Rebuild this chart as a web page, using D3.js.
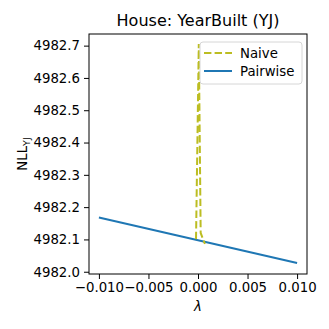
<!DOCTYPE html>
<html>
<head>
<meta charset="utf-8">
<script src="https://cdn.jsdelivr.net/npm/d3@7"></script>
<style>
  body { margin: 0; background: #fff; }
  text { font-family: "DejaVu Sans", sans-serif; }
</style>
</head>
<body>
<svg id="chart" width="329" height="329"></svg>
<script>
// values
const pairwiseLambda = [-0.01, 0.01];
const pairwiseNll = [4982.168, 4982.027];
const naiveLambda = [-0.0002, 0.00008, 0.00027, 0.0007];
const naiveNll = [4982.101, 4982.705, 4982.12, 4982.086];
const xTicks = [-0.01, -0.005, 0, 0.005, 0.01];
const yTicks = [4982.0, 4982.1, 4982.2, 4982.3, 4982.4, 4982.5, 4982.6, 4982.7];
const seriesNames = ["Naive", "Pairwise"];
const seriesColors = ["#bcbd22", "#1f77b4"];

const margin = {left: 89, right: 22, top: 34, bottom: 55};
const svg = d3.select("svg#chart");
const w = svg.attr("width") - margin.left - margin.right;
const h = svg.attr("height") - margin.top - margin.bottom;

const xScale = d3.scaleLinear().domain([-0.011, 0.011]).range([0, w]);
const yScale = d3.scaleLinear().domain([4981.993, 4982.736]).range([h, 0]);

const g = svg.append("g")
    .attr("transform", "translate(" + margin.left + ", " + margin.top + ")");

const minus = (s) => s.replace("-", "\u2212");

const xAxis = g.append("g")
    .attr("transform", "translate(0, " + h + ")")
    .call(d3.axisBottom(xScale).tickValues(xTicks).tickSize(5).tickPadding(4)
        .tickFormat((d) => minus(d3.format(".3f")(d))));
const yAxis = g.append("g")
    .call(d3.axisLeft(yScale).tickValues(yTicks).tickSize(5).tickPadding(4)
        .tickFormat(d3.format(".1f")));
[xAxis, yAxis].forEach((ax) => {
  ax.selectAll("text").attr("font-size", 13.3).attr("fill", "#000")
      .style("font-family", "DejaVu Sans");
  ax.selectAll("line").attr("stroke", "#000").attr("stroke-width", 1);
  ax.select(".domain").remove();
});

const line = d3.line()
    .x((d) => xScale(d[0]))
    .y((d) => yScale(d[1]));

g.append("path")
    .datum(pairwiseLambda.map((v, i) => [v, pairwiseNll[i]]))
    .attr("fill", "none")
    .attr("stroke", seriesColors[1])
    .attr("stroke-width", 2)
    .attr("d", line);

g.append("path")
    .datum(naiveLambda.map((v, i) => [v, naiveNll[i]]))
    .attr("fill", "none")
    .attr("stroke", seriesColors[0])
    .attr("stroke-width", 2)
    .attr("stroke-dasharray", "7.4,3.2")
    .attr("d", line);

// frame
g.append("rect")
    .attr("width", w).attr("height", h)
    .attr("fill", "none").attr("stroke", "#000").attr("stroke-width", 1);

// legend
const lg = g.append("g").attr("transform", "translate(" + (w - 107) + ", 8)");
lg.append("rect")
    .attr("width", 102).attr("height", 42).attr("rx", 3)
    .attr("fill", "#fff").attr("fill-opacity", 0.8)
    .attr("stroke", "#d6d6d6").attr("stroke-width", 1);
seriesNames.forEach((name, i) => {
  const y = 11 + i * 18;
  lg.append("line")
      .attr("x1", 4).attr("x2", 32).attr("y1", y).attr("y2", y)
      .attr("stroke", seriesColors[i]).attr("stroke-width", 2)
      .attr("stroke-dasharray", i == 0 ? "7.4,3.2" : null);
  lg.append("text")
      .attr("x", 40).attr("y", y).attr("dy", "0.35em")
      .attr("font-size", 13.3)
      .text(name);
});

// title and labels
svg.append("text")
    .attr("x", margin.left + w / 2).attr("y", 26)
    .attr("text-anchor", "middle").attr("font-size", 16)
    .text("House: YearBuilt (YJ)");

svg.append("text")
    .attr("x", margin.left + w / 2).attr("y", 311)
    .attr("text-anchor", "middle").attr("font-size", 13.3)
    .attr("font-style", "italic")
    .text("\u03bb");

const yl = svg.append("text")
    .attr("transform", "translate(27, " + (margin.top + h / 2) + ") rotate(-90)")
    .attr("text-anchor", "middle").attr("font-size", 13.3);
yl.append("tspan").text("NLL");
yl.append("tspan").attr("font-size", 9.5).attr("dy", 3).text("YJ");
</script>
</body>
</html>
